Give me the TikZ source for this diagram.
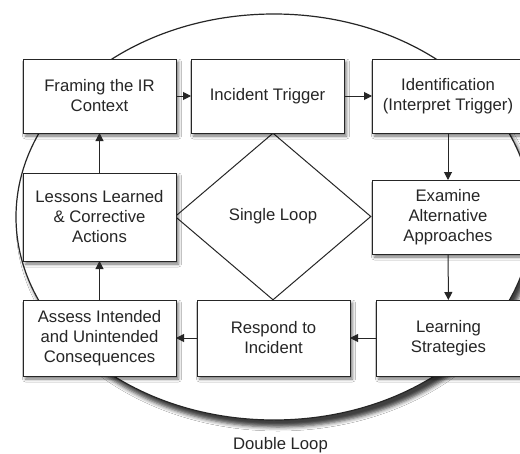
\documentclass[tikz,border=0pt]{standalone}
\usepackage{fontspec}
\setmainfont{Liberation Sans}
\usetikzlibrary{shapes.geometric,arrows.meta,shadows.blur}
\begin{document}
\begin{tikzpicture}[x=1pt,y=-1pt,
  txt/.style={font=\fontsize{16.7}{20}\selectfont, text=black!85},
  box/.style={txt, draw=black!85, line width=1pt, fill=white, rectangle,
    inner sep=0pt, outer sep=0pt, align=center,
    blur shadow={shadow xshift=2.5pt, shadow yshift=-3pt, shadow blur radius=3pt, shadow opacity=55}},
  arr/.style={draw=black!85, line width=1pt, -{Triangle[length=8pt,width=8pt]}}]
\useasboundingbox (0,0) rectangle (520,453);
\clip (0,0) rectangle (520,453);
\fill[white] (0,0) rectangle (520,453);
% double loop ellipse
\node[ellipse, draw=black!85, line width=1.2pt, fill=white, inner sep=0pt,
  minimum width=516pt, minimum height=406pt,
  blur shadow={shadow xshift=4pt, shadow yshift=-7pt, shadow blur radius=4pt, shadow opacity=75}]
  (dbl) at (274,217) {};
% single loop diamond
\node[diamond, draw=black!85, line width=1pt, inner sep=0pt, txt,
  minimum width=196pt, minimum height=167pt] (sgl) at (273,216.5) {Single Loop};
% boxes
\node[box, minimum width=153pt, minimum height=74pt] (frame) at (99.5,96) {Framing the IR\\Context};
\node[box, minimum width=153pt, minimum height=74pt] (trig) at (267.5,96) {Incident Trigger};
\node[box, minimum width=152pt, minimum height=74pt] (ident) at (448,96) {Identification\\(Interpret Trigger)};
\node[box, minimum width=153pt, minimum height=88pt] (less) at (99.5,217) {Lessons Learned\\\& Corrective\\Actions};
\node[box, minimum width=152pt, minimum height=74pt] (exam) at (448,217) {Examine\\Alternative\\Approaches};
\node[box, minimum width=153pt, minimum height=76pt] (assess) at (99.5,338) {Assess Intended\\and Unintended\\Consequences};
\node[box, minimum width=153pt, minimum height=76pt] (resp) at (273.5,338) {Respond to\\Incident};
\node[box, minimum width=145pt, minimum height=76pt] (learn) at (448.5,338) {Learning\\Strategies};
% arrows
\draw[arr] (frame) -- (trig);
\draw[arr] (trig) -- (ident);
\draw[arr] (ident) -- (exam);
\draw[arr] (exam) -- (learn);
\draw[arr] (learn) -- (resp);
\draw[arr] (resp) -- (assess);
\draw[arr] (assess) -- (less);
\draw[arr] (less) -- (frame);
% label
\node[txt, anchor=base, inner sep=0pt] (dlabel) at (280.5,449) {Double Loop};
\end{tikzpicture}
\end{document}
